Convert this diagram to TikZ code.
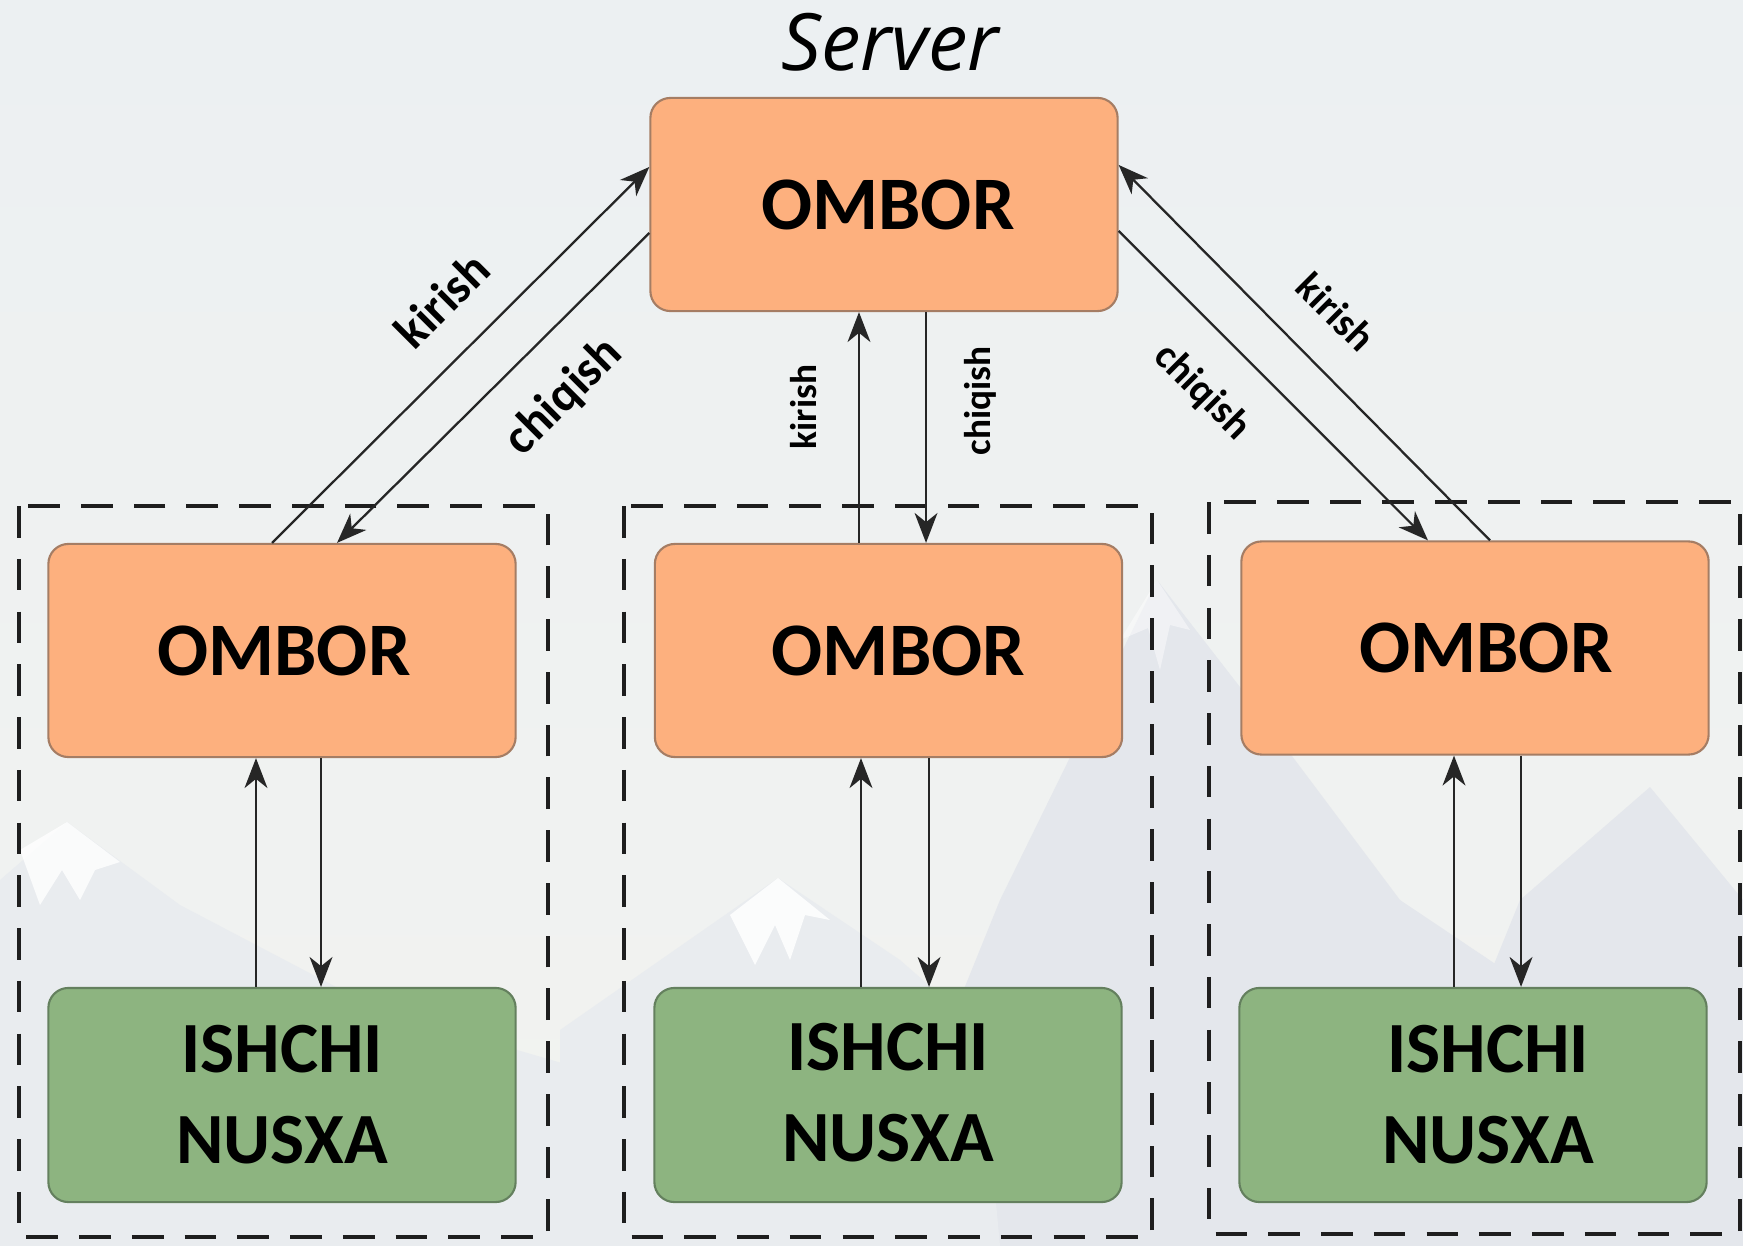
\documentclass[tikz,border=0pt]{standalone}
\usepackage{fontspec}
\setmainfont{Carlito}
\newfontfamily\serverfont{Open Sans}
\usetikzlibrary{arrows.meta,calc}
\definecolor{bgtop}{RGB}{236,240,242}
\definecolor{bgbot}{RGB}{242,243,240}
\definecolor{mount}{RGB}{228,231,236}
\definecolor{mountb}{RGB}{233,236,239}
\definecolor{orfill}{RGB}{253,176,126}
\definecolor{ordraw}{RGB}{165,125,100}
\definecolor{grfill}{RGB}{141,180,128}
\definecolor{grdraw}{RGB}{100,128,94}
\definecolor{dashc}{RGB}{30,30,30}
\tikzset{
  ombox/.style={draw=ordraw, fill=orfill, line width=0.6pt, rounded corners=0.2cm,
    minimum width=4.67cm, minimum height=2.13cm, font=\bfseries\fontsize{21.5}{26}\selectfont},
  ishbox/.style={draw=grdraw, fill=grfill, line width=0.6pt, rounded corners=0.2cm,
    minimum width=4.67cm, minimum height=2.14cm, align=center,
    font=\bfseries\fontsize{20.5}{25.9}\selectfont},
  group/.style={draw=dashc, line width=1.1pt, dash pattern=on 9pt off 6pt},
  arr/.style={draw=black!85, line width=0.65pt, -{Stealth[length=8.5pt,width=6.5pt,inset=2.6pt]}},
  lblL/.style={font=\bfseries\fontsize{14}{16}\selectfont, inner sep=0pt},
  lblM/.style={font=\bfseries\fontsize{10.6}{12}\selectfont, inner sep=0pt},
  lblR/.style={font=\bfseries\fontsize{11.5}{13}\selectfont, inner sep=0pt}
}
\begin{document}
\begin{tikzpicture}[x=0.01cm,y=-0.01cm]
% background
\shade[top color=bgtop, bottom color=bgbot] (0,0) rectangle (1743,1246);
\useasboundingbox (0,0) rectangle (1743,1246);
% faint mountains
\fill[mountb] (0,880) -- (67,822) -- (180,905) -- (380,1010) -- (620,1080) -- (620,1246) -- (0,1246) -- cycle;
\fill[white, opacity=0.8] (20,850) -- (67,822) -- (120,862) -- (95,870) -- (80,900) -- (62,870) -- (40,905) -- cycle;
\fill[mount] (860,1246) -- (1000,900) -- (1157,580) -- (1250,700) -- (1400,900) -- (1743,1130) -- (1743,1246) -- cycle;
\fill[mountb] (560,1030) -- (778,878) -- (900,960) -- (980,1030) -- (1000,1246) -- (560,1246) -- cycle;
\fill[white, opacity=0.85] (730,915) -- (778,878) -- (830,920) -- (805,915) -- (790,960) -- (775,925) -- (755,965) -- cycle;
\fill[white, opacity=0.45] (1120,640) -- (1157,580) -- (1190,630) -- (1170,625) -- (1160,670) -- (1148,628) -- cycle;
\fill[mount] (1380,1246) -- (1520,900) -- (1650,787) -- (1743,900) -- (1743,1246) -- cycle;
\fill[mountb] (0,950) -- (0,1246) -- (260,1246) -- cycle;

% title
\node[font=\serverfont\itshape\fontsize{22.5}{26}\selectfont] (title) at (890,42) {Server};

% groups
\draw[group] (19,506) rectangle (548,1237);
\draw[group] (624,506) rectangle (1152,1237);
\draw[group] (1209,502) rectangle (1740,1234);

% boxes
\node[ombox] (top) at (884,204.5) {\hspace*{0.08cm}OMBOR};
\node[ombox] (lo) at (282,650.5) {\hspace*{0.04cm}OMBOR};
\node[ombox] (mo) at (888.5,650.5) {\hspace*{0.2cm}OMBOR};
\node[ombox] (ro) at (1475,648) {\hspace*{0.22cm}OMBOR};
\node[ishbox] (li) at (282,1095) {ISHCHI\\NUSXA};
\node[ishbox] (mi) at (888,1095) {\raisebox{0.06cm}{ISHCHI}\\\raisebox{0.06cm}{NUSXA}};
\node[ishbox] (ri) at (1473,1095) {\hspace*{0.3cm}ISHCHI\\\hspace*{0.3cm}NUSXA};

% left diagonal pair
\draw[arr] ([xshift=-0.10cm]lo.north) -- ([yshift=0.375cm]top.west);
\draw[arr] ([yshift=-0.285cm]top.west) -- ([xshift=0.55cm]lo.north);
% middle vertical pair
\draw[arr] ([xshift=-0.295cm]mo.north) -- ([xshift=-0.295cm]mo.north |- top.south);
\draw[arr] ([xshift=0.375cm]mo.north |- top.south) -- ([xshift=0.375cm]mo.north);
% right diagonal pair
\draw[arr] ([yshift=-0.265cm]top.east) -- ([xshift=-0.47cm]ro.north);
\draw[arr] ([xshift=0.15cm]ro.north) -- ([yshift=0.395cm]top.east);

% inner pairs
\draw[arr] ([xshift=-0.26cm]li.north) -- ([xshift=-0.26cm]li.north |- lo.south);
\draw[arr] ([xshift=0.39cm]li.north |- lo.south) -- ([xshift=0.39cm]li.north);
\draw[arr] ([xshift=-0.27cm]mi.north) -- ([xshift=-0.27cm]mi.north |- mo.south);
\draw[arr] ([xshift=0.41cm]mi.north |- mo.south) -- ([xshift=0.41cm]mi.north);
\draw[arr] ([xshift=-0.19cm]ri.north) -- ([xshift=-0.19cm]ri.north |- ro.south);
\draw[arr] ([xshift=0.48cm]ri.north |- ro.south) -- ([xshift=0.48cm]ri.north);

% labels
\node[lblL, rotate=45] (lk) at (442,300) {kirish};
\node[lblL, rotate=45] (lc) at (564,397) {chiqish};
\node[lblM, rotate=90] (mk) at (804,407) {kirish};
\node[lblM, rotate=90] (mc) at (980,401) {chiqish};
\node[lblR, rotate=-45] (rk) at (1336,312) {kirish};
\node[lblR, rotate=-45] (rc) at (1202,392) {chiqish};
\end{tikzpicture}
\end{document}
